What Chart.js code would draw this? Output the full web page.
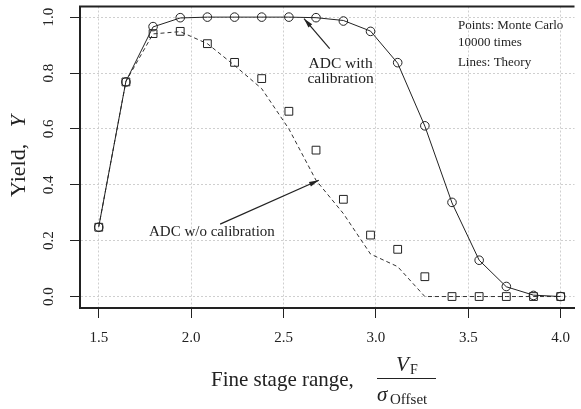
<!DOCTYPE html>
<html>
<head>
<meta charset="utf-8">
<script src="https://cdn.jsdelivr.net/npm/chart.js@4/dist/chart.umd.min.js"></script>
<style>
  html, body { margin: 0; padding: 0; background: #fff; }
  #wrap { width: 581px; height: 409px; }
</style>
</head>
<body>
<div id="wrap"><canvas id="yieldChart"></canvas></div>
<script>
// fine stage range V_F / sigma_offset
const rangeX = [1.5, 1.647, 1.794, 1.941, 2.088, 2.235, 2.382, 2.529, 2.676,
  2.824, 2.971, 3.118, 3.265, 3.412, 3.559, 3.706, 3.853, 4.0];
// Monte Carlo, 10000 times
const mcWithCal = [0.248, 0.768, 0.966, 0.998, 1.0, 1.0, 1.0, 1.0, 0.998,
  0.986, 0.949, 0.837, 0.611, 0.337, 0.130, 0.036, 0.004, 0.0];
const mcNoCal = [0.248, 0.768, 0.941, 0.949, 0.905, 0.838, 0.780, 0.663, 0.524,
  0.348, 0.220, 0.169, 0.071, 0.0, 0.0, 0.0, 0.0, 0.0];
// theory
const thWithCal = [0.25, 0.77, 0.965, 0.997, 1.0, 1.0, 1.0, 1.0, 0.998,
  0.988, 0.950, 0.835, 0.610, 0.335, 0.130, 0.035, 0.005, 0.0];
const thNoCal = [0.25, 0.77, 0.940, 0.948, 0.905, 0.827, 0.744, 0.600, 0.416,
  0.297, 0.152, 0.107, 0.0, 0.0, 0.0, 0.0, 0.0, 0.0];

const xTicks = [1.5, 2.0, 2.5, 3.0, 3.5, 4.0];
const yTicks = [0.0, 0.2, 0.4, 0.6, 0.8, 1.0];

const SERIF = '"Liberation Serif", "Times New Roman", serif';
const INK = '#222';

function pts(ys) {
  return ys.map((y, i) => ({x: rangeX[i], y: y}));
}

// text + arrows, anchored in data units
const notes = [
  {text: 'Points: Monte Carlo', x: 3.444, y: 0.970, align: 'left', size: 13},
  {text: '10000 times', x: 3.444, y: 0.910, align: 'left', size: 13},
  {text: 'Lines: Theory', x: 3.444, y: 0.839, align: 'left', size: 13},
  {text: 'ADC with', x: 2.809, y: 0.832, align: 'center', size: 15.5},
  {text: 'calibration', x: 2.809, y: 0.778, align: 'center', size: 15.5},
  {text: 'ADC w/o calibration', x: 1.772, y: 0.230, align: 'left', size: 15},
];
const arrows = [
  {from: [2.750, 0.8875], to: [2.611, 0.9946]},
  {from: [2.157, 0.259], to: [2.691, 0.416]},
];

const decorPlugin = {
  id: 'decor',
  afterDraw(chart) {
    const ctx = chart.ctx;
    const xs = chart.scales.x;
    const ys = chart.scales.y;
    const area = chart.chartArea;
    ctx.save();

    // top border of the box
    ctx.strokeStyle = INK;
    ctx.lineWidth = 2;
    ctx.beginPath();
    ctx.moveTo(area.left - 1, area.top);
    ctx.lineTo(area.right, area.top);
    ctx.stroke();

    ctx.fillStyle = INK;
    ctx.textBaseline = 'middle';

    // tick labels
    ctx.font = '15px ' + SERIF;
    ctx.textAlign = 'center';
    xTicks.forEach((v) => {
      ctx.fillText(v.toFixed(1), xs.getPixelForValue(v), 338);
    });
    yTicks.forEach((v) => {
      ctx.save();
      ctx.translate(49, ys.getPixelForValue(v));
      ctx.rotate(-Math.PI / 2);
      ctx.fillText(v.toFixed(1), 0, 0);
      ctx.restore();
    });

    // y title: Yield, Y
    ctx.save();
    ctx.translate(19, 156);
    ctx.rotate(-Math.PI / 2);
    const yPart = 'Yield,   ';
    ctx.font = '22px ' + SERIF;
    const w1 = ctx.measureText(yPart).width;
    ctx.font = 'italic 22px ' + SERIF;
    const w2 = ctx.measureText('Y').width;
    ctx.textAlign = 'left';
    ctx.font = '22px ' + SERIF;
    ctx.fillText(yPart, -(w1 + w2) / 2, 0);
    ctx.font = 'italic 22px ' + SERIF;
    ctx.fillText('Y', -(w1 + w2) / 2 + w1, 0);
    ctx.restore();

    // x title: Fine stage range, V_F / sigma_Offset
    ctx.textAlign = 'left';
    ctx.font = '21px ' + SERIF;
    ctx.fillText('Fine stage range,', 211, 380);
    ctx.lineWidth = 1;
    ctx.beginPath();
    ctx.moveTo(377, 378.5);
    ctx.lineTo(436, 378.5);
    ctx.stroke();
    ctx.font = 'italic 21px ' + SERIF;
    ctx.fillText('V', 396, 365);
    ctx.font = '14px ' + SERIF;
    ctx.fillText('F', 410, 370);
    ctx.font = 'italic 21px ' + SERIF;
    ctx.fillText('\u03c3', 377, 395);
    ctx.font = '15px ' + SERIF;
    ctx.fillText('Offset', 390, 400);

    // notes
    notes.forEach((n) => {
      ctx.font = n.size + 'px ' + SERIF;
      ctx.textAlign = n.align;
      ctx.fillText(n.text, xs.getPixelForValue(n.x), ys.getPixelForValue(n.y));
    });

    // arrows
    ctx.lineWidth = 1.2;
    arrows.forEach((a) => {
      const x0 = xs.getPixelForValue(a.from[0]);
      const y0 = ys.getPixelForValue(a.from[1]);
      const x1 = xs.getPixelForValue(a.to[0]);
      const y1 = ys.getPixelForValue(a.to[1]);
      const ang = Math.atan2(y1 - y0, x1 - x0);
      ctx.beginPath();
      ctx.moveTo(x0, y0);
      ctx.lineTo(x1, y1);
      ctx.stroke();
      const len = 10;
      const spread = 0.25;
      ctx.beginPath();
      ctx.moveTo(x1, y1);
      ctx.lineTo(x1 - len * Math.cos(ang - spread), y1 - len * Math.sin(ang - spread));
      ctx.lineTo(x1 - len * Math.cos(ang + spread), y1 - len * Math.sin(ang + spread));
      ctx.closePath();
      ctx.fill();
    });
    ctx.restore();
  },
};

const gridStyle = {
  color: '#cfcfcf',
  lineWidth: 1,
  drawTicks: true,
  tickLength: 10,
  tickColor: INK,
  tickWidth: 1,
  tickBorderDash: [],
};
const borderStyle = {display: true, color: INK, width: 2, dash: [2, 2]};

new Chart(document.getElementById('yieldChart'), {
  type: 'scatter',
  data: {
    datasets: [
      {
        label: 'Theory with calibration',
        data: pts(thWithCal),
        showLine: true,
        borderColor: INK,
        borderWidth: 1,
        pointRadius: 0,
        fill: false,
      },
      {
        label: 'Theory w/o calibration',
        data: pts(thNoCal),
        showLine: true,
        borderColor: '#333',
        borderWidth: 1,
        borderDash: [4, 3],
        pointRadius: 0,
        fill: false,
      },
      {
        label: 'MC with calibration',
        data: pts(mcWithCal),
        pointStyle: 'circle',
        pointRadius: 4.3,
        borderColor: INK,
        borderWidth: 1,
        backgroundColor: 'rgba(0,0,0,0)',
      },
      {
        label: 'MC w/o calibration',
        data: pts(mcNoCal),
        pointStyle: 'rect',
        pointRadius: 5.5,
        borderColor: INK,
        borderWidth: 1,
        backgroundColor: 'rgba(0,0,0,0)',
      },
    ],
  },
  options: {
    responsive: true,
    maintainAspectRatio: false,
    animation: false,
    layout: {padding: {top: 6, right: 0, left: 0, bottom: 0}},
    plugins: {
      legend: {display: false},
      tooltip: {enabled: false},
    },
    scales: {
      x: {
        type: 'linear',
        min: 1.3985,
        max: 4.075,
        afterBuildTicks: (s) => {
          s.ticks = xTicks.map((v) => ({value: v}));
        },
        afterFit: (s) => {
          s.height = 101;
        },
        ticks: {display: false},
        grid: gridStyle,
        border: borderStyle,
      },
      y: {
        min: -0.041,
        max: 1.038,
        afterBuildTicks: (s) => {
          s.ticks = yTicks.map((v) => ({value: v}));
        },
        afterFit: (s) => {
          s.width = 80;
        },
        ticks: {display: false},
        grid: gridStyle,
        border: borderStyle,
      },
    },
  },
  plugins: [decorPlugin],
});
</script>
</body>
</html>
